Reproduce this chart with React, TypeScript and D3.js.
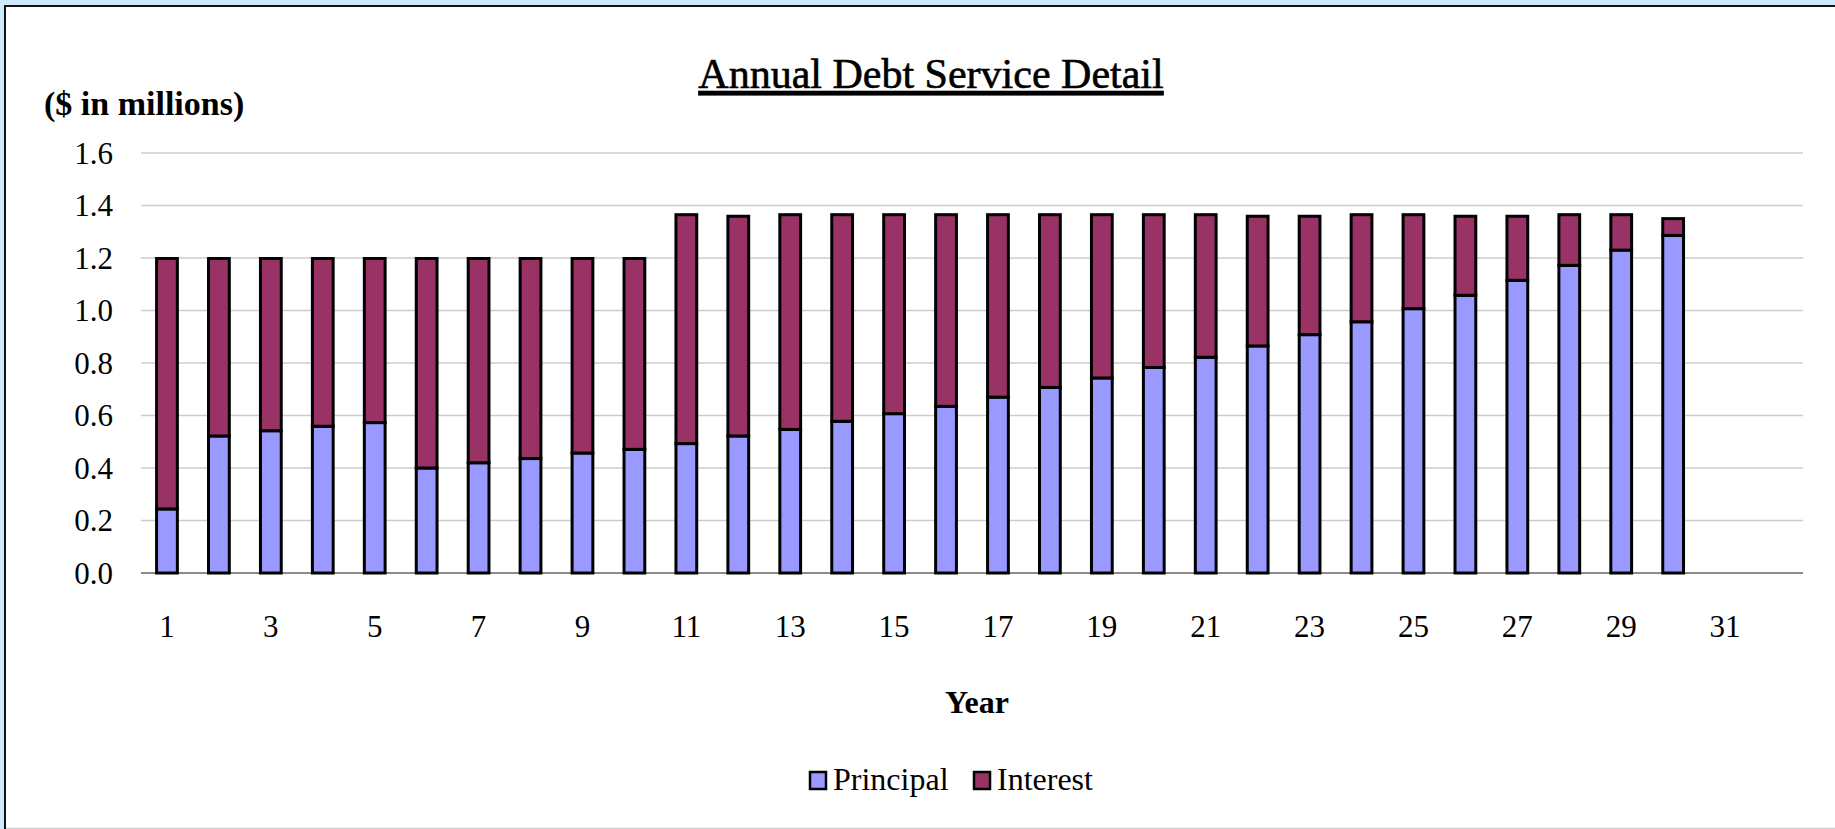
import React from "react";
import * as d3 from "d3";

const years = d3.range(1, 33);
const principal = [0.244, 0.522, 0.542, 0.559, 0.573, 0.4, 0.42, 0.436, 0.457, 0.471, 0.493, 0.522, 0.547, 0.578, 0.607, 0.635, 0.67, 0.707, 0.743, 0.783, 0.822, 0.865, 0.908, 0.957, 1.007, 1.058, 1.115, 1.172, 1.23, 1.286];
const totals = [1.198, 1.198, 1.198, 1.198, 1.198, 1.198, 1.198, 1.198, 1.198, 1.198, 1.365, 1.359, 1.365, 1.365, 1.365, 1.365, 1.365, 1.365, 1.365, 1.365, 1.365, 1.359, 1.359, 1.365, 1.365, 1.359, 1.359, 1.365, 1.365, 1.35];
const interest = totals.map((t, i) => t - principal[i]);
const yTicks = [0, 0.2, 0.4, 0.6, 0.8, 1.0, 1.2, 1.4, 1.6];
const xTickYears = d3.range(1, 32, 2);
const seriesNames = ["Principal", "Interest"];
const colors = ["#9999ff", "#993366"];

const W = 1835;
const H = 829;
const FONT = "'Liberation Serif', 'Times New Roman', serif";

export default function App() {
  const x = d3.scaleBand<number>().domain(years).range([141, 1803]).paddingInner(0.6).paddingOuter(0.3);
  const y = d3.scaleLinear().domain([0, 1.6]).range([573, 153]);
  const rows = principal.map((p, i) => ({ year: i + 1, Principal: p, Interest: interest[i] }));
  const stacked = d3.stack<any>().keys(seriesNames)(rows);

  return (
    <svg width={W} height={H} style={{ position: "absolute", left: 0, top: 0 }} fontFamily={FONT}>
      <rect x={0} y={0} width={W} height={H} fill="#cdeafc" />
      <rect x={5} y={6} width={W - 5} height={H - 6} fill="#ffffff" />
      <line x1={4} x2={W} y1={6} y2={6} stroke="#111" strokeWidth={2} />
      <line x1={5} x2={5} y1={5} y2={H} stroke="#111" strokeWidth={2} />
      <line x1={6} x2={W} y1={H - 0.5} y2={H - 0.5} stroke="#cfcfcf" strokeWidth={1.5} />

      <text x={931} y={88} textAnchor="middle" fontSize={42} fill="#000" stroke="#000" strokeWidth={0.6} style={{ textDecoration: "underline" }}>
        Annual Debt Service Detail
      </text>
      <text x={44} y={115} fontSize={34} fontWeight="bold" fill="#000">($ in millions)</text>

      {yTicks.map((t) => (
        <g key={t}>
          <line x1={141} x2={1803} y1={y(t)} y2={y(t)} stroke={t === 0 ? "#8c8c8c" : "#cccccc"} strokeWidth={t === 0 ? 2 : 1.5} />
          <text x={113} y={y(t)} dy="0.35em" textAnchor="end" fontSize={31} fill="#000">{t.toFixed(1)}</text>
        </g>
      ))}

      {stacked.map((s, si) => (
        <g key={s.key}>
          {s.map((d: any) => (
            <rect
              key={d.data.year}
              x={x(d.data.year)}
              y={y(d[1])}
              width={x.bandwidth()}
              height={y(d[0]) - y(d[1])}
              fill={colors[si]}
              stroke="#000"
              strokeWidth={3}
            />
          ))}
        </g>
      ))}

      {xTickYears.map((yr) => (
        <text key={yr} x={(x(yr) as number) + x.bandwidth() / 2} y={637} textAnchor="middle" fontSize={31} fill="#000">{yr}</text>
      ))}

      <text x={977} y={713} textAnchor="middle" fontSize={32} fontWeight="bold" fill="#000">Year</text>

      {seriesNames.map((n, i) => {
        const lx = i === 0 ? 810 : 974;
        return (
          <g key={n}>
            <rect x={lx} y={772} width={16} height={17} fill={colors[i]} stroke="#000" strokeWidth={2.5} />
            <text x={lx + 23} y={790} fontSize={32} fill="#000">{n}</text>
          </g>
        );
      })}
    </svg>
  );
}
